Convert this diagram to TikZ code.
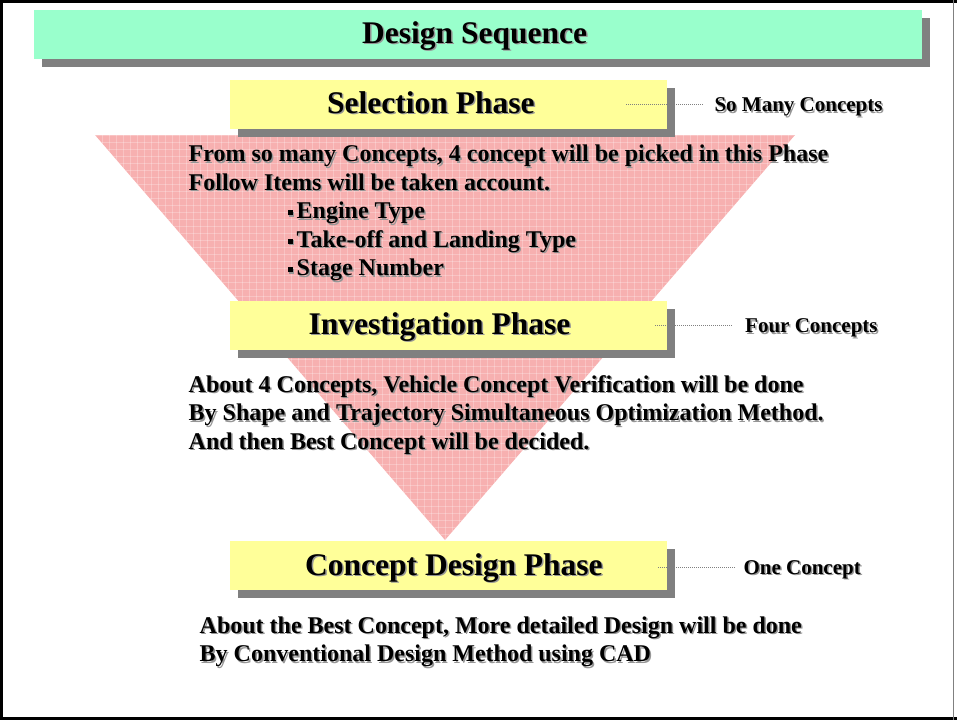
\documentclass[tikz,border=0pt]{standalone}
\usepackage{fontspec}
\setmainfont{Liberation Serif}
\definecolor{titlegreen}{RGB}{153,255,204}
\definecolor{boxyellow}{RGB}{255,255,153}
\definecolor{shadowgray}{RGB}{128,128,128}
\definecolor{txtshadow}{RGB}{150,150,150}
\definecolor{trianglepink}{RGB}{247,176,176}
\newcommand\shtxt[1]{\rlap{\kern1.5pt\raisebox{-1.5pt}{\textcolor{txtshadow}{#1}}}#1}
\newcommand\sqbullet{\rule[3.5pt]{5pt}{5pt}\hspace{4pt}}
\begin{document}
\begin{tikzpicture}[x=1pt,y=-1pt,
  heading/.style={anchor=base west, inner sep=0pt, font=\fontsize{31.5}{36}\selectfont\bfseries},
  bodytext/.style={anchor=base west, inner sep=0pt, font=\fontsize{24}{29}\selectfont\bfseries},
  sidelabel/.style={anchor=base west, inner sep=0pt, font=\fontsize{21}{25}\selectfont\bfseries},
  panel/.style={inner sep=0pt, minimum width=437pt, minimum height=49pt, fill=boxyellow},
  panelshadow/.style={inner sep=0pt, minimum width=437pt, minimum height=49pt, fill=shadowgray},
  leader/.style={draw=shadowgray, line width=0.8pt, dash pattern=on 1pt off 1pt}]
\useasboundingbox (0,0) rectangle (957,720);
% frame
\draw[line width=3pt] (0,1.5) -- (957,1.5);
\draw[line width=3pt] (1.5,0) -- (1.5,720);
\draw[line width=3pt] (0,718.5) -- (957,718.5);
\draw[shadowgray, line width=1.2pt] (953.5,0) -- (953.5,720);
% funnel triangle
\coordinate (tl) at (95,135);
\coordinate (tr) at (795,135);
\coordinate (ap) at (445,540);
\fill[trianglepink] (tl) -- (tr) -- (ap) -- cycle;
\begin{scope}
  \clip (tl) -- (tr) -- (ap) -- cycle;
  \foreach \x in {95,102,...,795} \draw[white, opacity=.25, line width=0.8pt] (\x,135) -- (\x,540);
  \foreach \y in {135,142,...,540} \draw[white, opacity=.25, line width=0.8pt] (95,\y) -- (795,\y);
\end{scope}
% title
\node[inner sep=0pt, minimum width=888pt, minimum height=49pt, fill=shadowgray] (titlesh) at (486,42.5) {};
\node[inner sep=0pt, minimum width=888pt, minimum height=49pt, fill=titlegreen] (titlebox) at (478,34.5) {};
\node[heading] (title) at (362,43.3) {\shtxt{Design Sequence}};
% phase boxes
\node[panelshadow] (selsh) at (456.5,112.5) {};
\node[panel] (sel) at (448.5,104.5) {};
\node[panelshadow] (invsh) at (456.5,333.5) {};
\node[panel] (inv) at (448.5,325.5) {};
\node[panelshadow] (consh) at (456.5,573.5) {};
\node[panel] (con) at (448.5,565.5) {};
\node[heading] (selt) at (327,113) {\shtxt{Selection Phase}};
\node[heading] (invt) at (308.5,334) {\shtxt{Investigation Phase}};
\node[heading] (cont) at (305,575) {\shtxt{Concept Design Phase}};
% side labels
\node[sidelabel] (somany) at (714.3,111.7) {\shtxt{So Many Concepts}};
\node[sidelabel] (four) at (745,332.5) {\shtxt{Four Concepts}};
\node[sidelabel] (one) at (743.3,574) {\shtxt{One Concept}};
\coordinate (selL) at (626,104);
\coordinate (invL) at (655,325);
\coordinate (conL) at (658,567);
\draw[leader] (selL) -- ([xshift=-11pt]selL -| somany.west);
\draw[leader] (invL) -- ([xshift=-12pt]invL -| four.west);
\draw[leader] (conL) -- ([xshift=-8pt]conL -| one.west);
% selection text
\node[bodytext] (s1) at (188.5,161.5) {\shtxt{From so many Concepts, 4 concept will be picked in this Phase}};
\node[bodytext] (s2) at (188.5,190) {\shtxt{Follow Items will be taken account.}};
\node[bodytext] (s3) at (287.5,218.5) {\shtxt{\sqbullet Engine Type}};
\node[bodytext] (s4) at (287.5,247) {\shtxt{\sqbullet Take-off and Landing Type}};
\node[bodytext] (s5) at (287.5,275.5) {\shtxt{\sqbullet Stage Number}};
% investigation text
\node[bodytext] (i1) at (188.5,392) {\shtxt{About 4 Concepts, Vehicle Concept Verification will be done}};
\node[bodytext] (i2) at (188.5,420.5) {\shtxt{By Shape and Trajectory Simultaneous Optimization Method.}};
\node[bodytext] (i3) at (188.5,449) {\shtxt{And then Best Concept will be decided.}};
% concept design text
\node[bodytext] (c1) at (199.5,633) {\shtxt{About the Best Concept, More detailed Design will be done}};
\node[bodytext] (c2) at (199.5,661.5) {\shtxt{By Conventional Design Method using CAD}};
\end{tikzpicture}
\end{document}
